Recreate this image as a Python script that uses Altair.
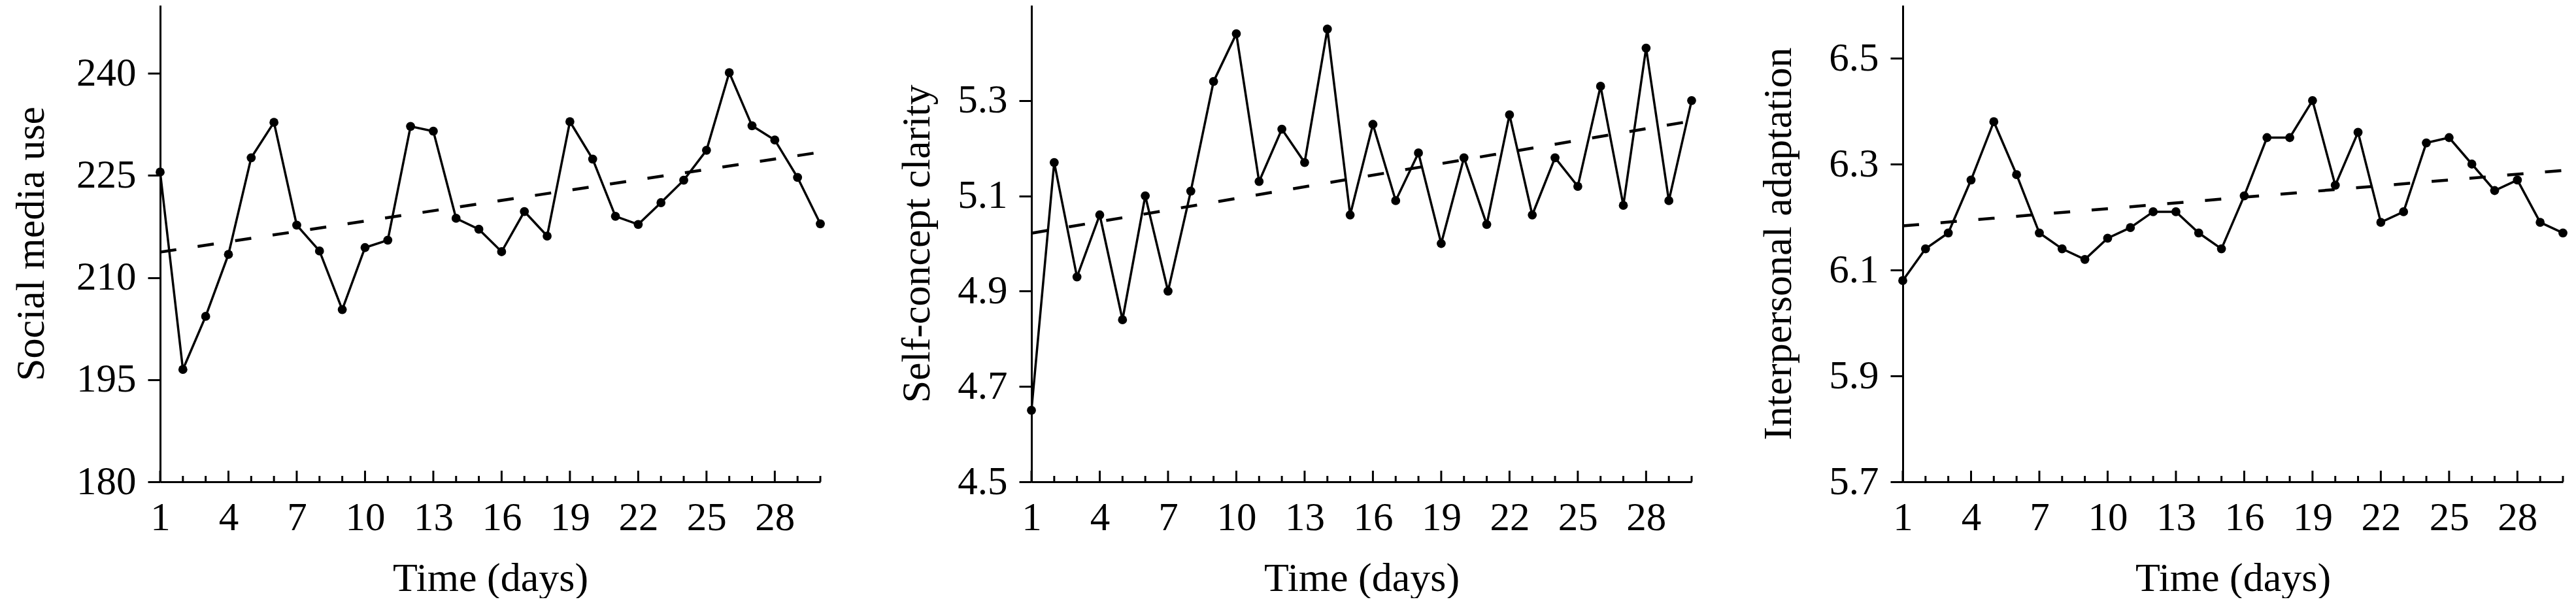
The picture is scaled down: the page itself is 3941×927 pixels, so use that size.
import altair as alt
import pandas as pd

days = list(range(1, 31))
social_media_use = [225.5, 196.5, 204.3, 213.4, 227.6, 232.8, 217.7, 213.9, 205.3, 214.4,
                    215.5, 232.2, 231.5, 218.7, 217.1, 213.8, 219.7, 216.1, 232.9, 227.4,
                    219.0, 217.8, 221.0, 224.3, 228.7, 240.1, 232.3, 230.2, 224.7, 217.9]
self_concept_clarity = [4.65, 5.17, 4.93, 5.06, 4.84, 5.10, 4.90, 5.11, 5.34, 5.44,
                        5.13, 5.24, 5.17, 5.45, 5.06, 5.25, 5.09, 5.19, 5.00, 5.18,
                        5.04, 5.27, 5.06, 5.18, 5.12, 5.33, 5.08, 5.41, 5.09, 5.30]
interpersonal_adaptation = [6.08, 6.14, 6.17, 6.27, 6.38, 6.28, 6.17, 6.14, 6.12, 6.16,
                            6.18, 6.21, 6.21, 6.17, 6.14, 6.24, 6.35, 6.35, 6.42, 6.26,
                            6.36, 6.19, 6.21, 6.34, 6.35, 6.30, 6.25, 6.27, 6.19, 6.17]

x_labels = [1, 4, 7, 10, 13, 16, 19, 22, 25, 28]
y_ticks_social = [180, 195, 210, 225, 240]
y_ticks_clarity = [4.5, 4.7, 4.9, 5.1, 5.3]
y_ticks_adapt = [5.7, 5.9, 6.1, 6.3, 6.5]

W = 1010
H = 729
FONT = "Liberation Serif"


def panel(values, ytitle, domain, yticks, fmt, title_pad):
    df = pd.DataFrame({"day": days, "value": values})
    ticks_major = pd.DataFrame({"day": x_labels})
    ticks_minor = pd.DataFrame({"day": [d for d in days if d not in x_labels]})

    x = alt.X("day:Q",
              scale=alt.Scale(domain=[1, 30], nice=False, zero=False),
              axis=alt.Axis(values=x_labels, title="Time (days)", ticks=False, tickSize=0,
                            labelPadding=25, titlePadding=32, format="d",
                            labelFlush=False, labelOverlap=False, labelBound=False,
                            labelExpr="datum.value < 10 ? datum.label + '\u00a0' : datum.label"))
    y = alt.Y("value:Q",
              scale=alt.Scale(domain=domain, nice=False, zero=False),
              axis=alt.Axis(values=yticks, format=fmt, title=ytitle, tickSize=19,
                            labelPadding=18, titlePadding=title_pad,
                            labelOverlap=False, labelFlush=False))

    base = alt.Chart(df)
    trend = base.transform_regression("day", "value").mark_line(
        color="black", strokeWidth=4.5, strokeDash=[25, 33]).encode(x=x, y=y)
    line = base.mark_line(color="black", strokeWidth=3.5).encode(x=x, y=y)
    pts = base.mark_circle(color="black", size=190, opacity=1).encode(x=x, y=y)
    major = alt.Chart(ticks_major).mark_rule(color="black", strokeWidth=3).encode(
        x=x, y=alt.value(H), y2=alt.value(H - 17))
    minor = alt.Chart(ticks_minor).mark_rule(color="black", strokeWidth=3).encode(
        x=x, y=alt.value(H), y2=alt.value(H - 9))
    return alt.layer(trend, line, pts, major, minor).properties(width=W, height=H)


p1 = panel(social_media_use, "Social media use", [180, 250], y_ticks_social, "d", 37)
p2 = panel(self_concept_clarity, "Self-concept clarity", [4.5, 5.5], y_ticks_clarity, ".1f", 30)
p3 = panel(interpersonal_adaptation, "Interpersonal adaptation", [5.7, 6.6], y_ticks_adapt, ".1f", 45)

chart = alt.hconcat(p1, p2, p3, spacing=323, bounds="flush").properties(
    padding={"left": 8, "top": 0, "right": 0, "bottom": 0}
).configure_view(stroke=None).configure_axis(
    labelFont=FONT, titleFont=FONT, labelFontSize=61, titleFontSize=62,
    labelColor="black", titleColor="black", domainColor="black", tickColor="black",
    domainWidth=3, tickWidth=3, grid=False, titleFontWeight="normal"
)

chart.save("out.html", embed_options={"renderer": "svg", "actions": False})
